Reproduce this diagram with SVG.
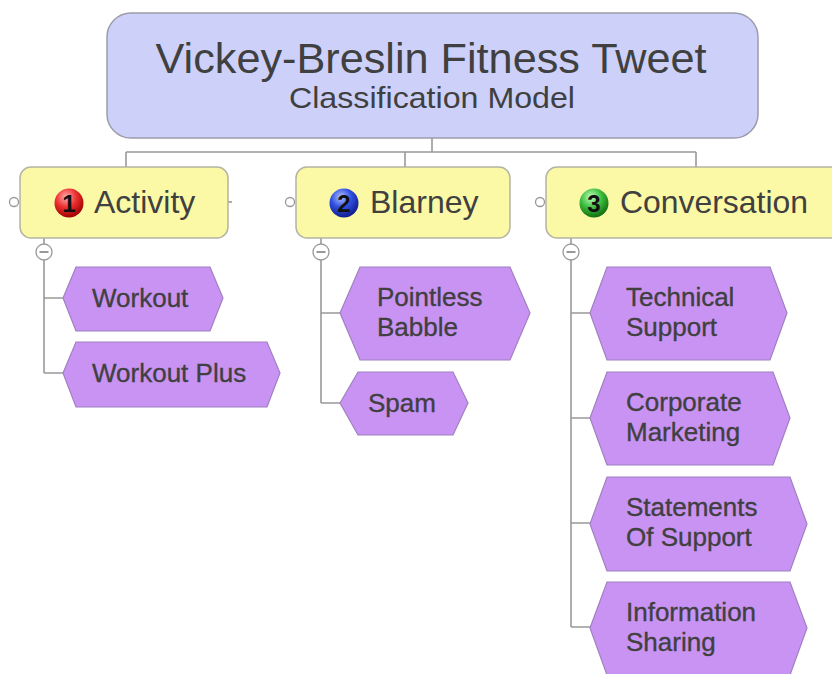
<svg xmlns="http://www.w3.org/2000/svg" width="832" height="674" viewBox="0 0 832 674">
<defs>
<radialGradient id="gRed" cx="0.4" cy="0.3" r="0.7"><stop offset="0" stop-color="#ffb0b0"/><stop offset="0.5" stop-color="#ee3030"/><stop offset="1" stop-color="#a00000"/></radialGradient>
<radialGradient id="gBlue" cx="0.4" cy="0.3" r="0.7"><stop offset="0" stop-color="#b0c0ff"/><stop offset="0.5" stop-color="#3050e0"/><stop offset="1" stop-color="#101c90"/></radialGradient>
<radialGradient id="gGreen" cx="0.4" cy="0.3" r="0.7"><stop offset="0" stop-color="#c0ffc0"/><stop offset="0.5" stop-color="#40c040"/><stop offset="1" stop-color="#107010"/></radialGradient>
</defs>
<style>
text{font-family:"Liberation Sans",Arial,sans-serif;fill:#404040}
.root{fill:#cdd1fa;stroke:#9c9cac;stroke-width:1.5}
.cat{fill:#fbf8a6;stroke:#b4b4a4;stroke-width:1.5}
.hex{fill:#c993f3;stroke:#a080c0;stroke-width:1.2}
.con{fill:none;stroke:#999;stroke-width:1.6}
.knob{fill:#fff;stroke:#999;stroke-width:1.3}
.cat-t{font-size:32px}
.sub{font-size:26px;stroke:#404040;stroke-width:0.35}
.num{font-size:24px;font-weight:bold;fill:#111}
</style>
<rect width="832" height="674" fill="#fff"/>
<g id="connectors">
<path class="con" d="M432 138V152M126 152H696M126 152V167M405 152V167M696 152V167"/>
<path class="con" d="M44 238V244M44 260V373M44 298H63M44 373H63"/>
<path class="con" d="M321 238V244M321 260V403M321 313H340M321 403H340"/>
<path class="con" d="M571 238V244M571 260V627M571 313H590M571 418H590M571 523H590M571 627H590"/>
<path class="con" d="M228 202H232"/>
</g>
<g id="root">
<rect class="root" x="107" y="13" width="651" height="125" rx="24"/>
<text x="431" y="73" font-size="42" text-anchor="middle" textLength="551" lengthAdjust="spacingAndGlyphs">Vickey-Breslin Fitness Tweet</text>
<text x="432" y="108" font-size="29" text-anchor="middle" textLength="286" lengthAdjust="spacingAndGlyphs">Classification Model</text>
</g>
<g id="activity">
<rect class="cat" x="20" y="167" width="208" height="71" rx="11"/>
<circle class="knob" cx="14" cy="202" r="4.5"/>
<circle cx="69" cy="203" r="14.5" fill="url(#gRed)"/>
<text class="num" x="69" y="211.5" text-anchor="middle">1</text>
<text class="cat-t" x="94" y="213">Activity</text>
<circle class="knob" cx="44" cy="252" r="8"/>
<path d="M39.5 252H48.5" stroke="#777" stroke-width="1.5"/>
</g>
<g id="blarney">
<rect class="cat" x="296" y="167" width="214" height="71" rx="11"/>
<circle class="knob" cx="290" cy="202" r="4.5"/>
<circle cx="344" cy="203" r="14.5" fill="url(#gBlue)"/>
<text class="num" x="344" y="211.5" text-anchor="middle">2</text>
<text class="cat-t" x="370" y="213">Blarney</text>
<circle class="knob" cx="321" cy="252" r="8"/>
<path d="M316.5 252H325.5" stroke="#777" stroke-width="1.5"/>
</g>
<g id="conversation">
<rect class="cat" x="546" y="167" width="300" height="71" rx="11"/>
<circle class="knob" cx="540" cy="202" r="4.5"/>
<circle cx="594" cy="203" r="14.5" fill="url(#gGreen)"/>
<text class="num" x="594" y="211.5" text-anchor="middle">3</text>
<text class="cat-t" x="620" y="213" textLength="188" lengthAdjust="spacingAndGlyphs">Conversation</text>
<circle class="knob" cx="571" cy="252" r="8"/>
<path d="M566.5 252H575.5" stroke="#777" stroke-width="1.5"/>
</g>
<g id="workout">
<polygon class="hex" points="63,298 76,267 210,267 223,298 210,331 76,331"/>
<text class="sub" x="92" y="307">Workout</text>
</g>
<g id="workout-plus">
<polygon class="hex" points="63,373 76,342 267,342 280,373 267,407 76,407"/>
<text class="sub" x="92" y="382">Workout Plus</text>
</g>
<g id="pointless-babble">
<polygon class="hex" points="340,313 360,267 510,267 530,313 510,360 360,360"/>
<text class="sub" x="377" y="306">Pointless</text>
<text class="sub" x="377" y="336">Babble</text>
</g>
<g id="spam">
<polygon class="hex" points="340,403 358,372 453,372 468,403 453,435 358,435"/>
<text class="sub" x="368" y="412">Spam</text>
</g>
<g id="technical-support">
<polygon class="hex" points="590,313 607,267 770,267 787,313 770,360 607,360"/>
<text class="sub" x="626" y="306">Technical</text>
<text class="sub" x="626" y="336">Support</text>
</g>
<g id="corporate-marketing">
<polygon class="hex" points="590,418 607,372 773,372 790,418 773,465 607,465"/>
<text class="sub" x="626" y="411">Corporate</text>
<text class="sub" x="626" y="441">Marketing</text>
</g>
<g id="statements-of-support">
<polygon class="hex" points="590,524 607,477 790,477 807,524 790,571 607,571"/>
<text class="sub" x="626" y="516">Statements</text>
<text class="sub" x="626" y="546">Of Support</text>
</g>
<g id="information-sharing">
<polygon class="hex" points="590,628 607,582 790,582 807,628 790,675 607,675"/>
<text class="sub" x="626" y="621">Information</text>
<text class="sub" x="626" y="651">Sharing</text>
</g>
</svg>
